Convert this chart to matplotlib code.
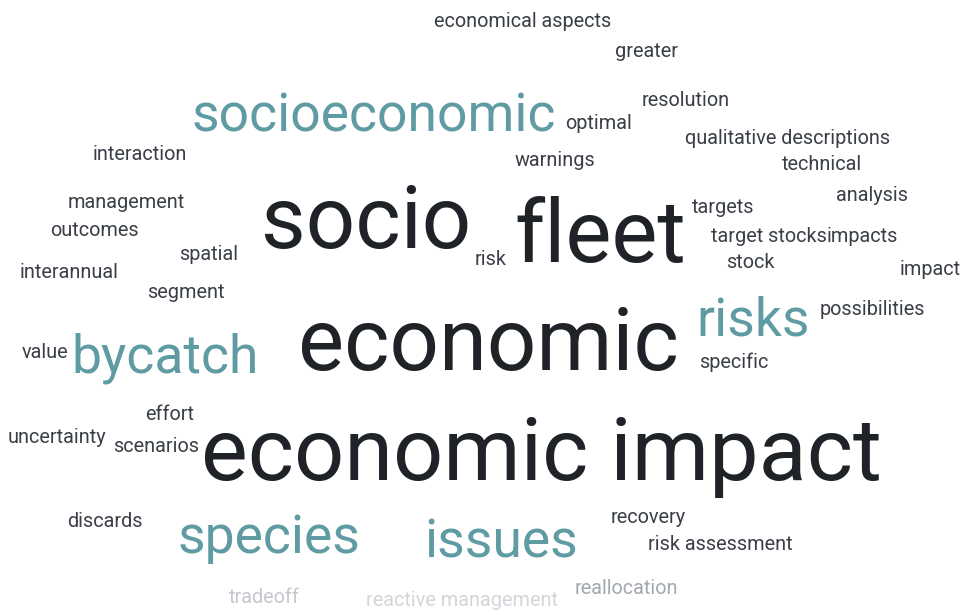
import matplotlib
matplotlib.use('Agg')
import matplotlib.pyplot as plt

### Word cloud terms and their weight class (4 = largest)
words = ['socio', 'fleet', 'economic', 'economic impact',
         'socioeconomic', 'bycatch', 'risks', 'species', 'issues',
         'economical aspects', 'greater', 'resolution', 'optimal',
         'qualitative descriptions', 'technical', 'warnings', 'interaction',
         'management', 'outcomes', 'spatial', 'interannual', 'segment', 'risk',
         'targets', 'analysis', 'target stocks', 'impacts', 'stock', 'impact',
         'possibilities', 'value', 'specific', 'effort', 'uncertainty',
         'scenarios', 'discards', 'recovery', 'risk assessment',
         'tradeoff', 'reactive management', 'reallocation']
weights = [3, 3, 3, 4,
           2, 2, 2, 2, 2,
           1, 1, 1, 1,
           1, 1, 1, 1,
           1, 1, 1, 1, 1, 1,
           1, 1, 1, 1, 1, 1,
           1, 1, 1, 1, 1,
           1, 1, 1, 1,
           0, 0, 0]

### Layout (pixel centre x, baseline y) as placed by the cloud
layout_x = [366, 600, 488, 541,
            374, 165, 753, 269, 501,
            523, 646, 686, 599,
            788, 822, 555, 140,
            126, 94, 209, 69, 186, 491,
            723, 872, 769, 862, 750, 930,
            872, 45, 734, 170, 57,
            156, 105, 648, 720,
            264, 462, 626]
layout_y = [248, 262, 370, 480,
            132, 372, 335, 553, 557,
            27, 57, 106, 129,
            144, 170, 166, 160,
            208, 236, 260, 278, 298, 265,
            213, 201, 242, 242, 268, 275,
            315, 358, 368, 420, 443,
            452, 527, 523, 550,
            603, 606, 594]

### Styles per word
sizes = {4: 63.5, 3: 62.5, 2: 38.5, 1: 14.3, 0: 14.3}
cols = {4: '#1f2227', 3: '#1f2227', 2: '#5e9ba3', 1: '#3a3f47'}
faded = {'tradeoff': '#c4c8ce', 'reactive management': '#d2d5da',
         'reallocation': '#a3a8ae'}

fig = plt.figure(figsize=(9.71, 6.15), dpi=100)
ax = fig.add_axes([0, 0, 1, 1])
ax.set_xlim(0, 971)
ax.set_ylim(615, 0)
ax.axis('off')

for w, wt, x, y in zip(words, weights, layout_x, layout_y):
    c = faded.get(w, cols.get(wt))
    ax.text(x, y, w, fontsize=sizes[wt], color=c, family='Roboto',
            ha='center', va='baseline')

plt.savefig('out.png', dpi=100, facecolor='white')
